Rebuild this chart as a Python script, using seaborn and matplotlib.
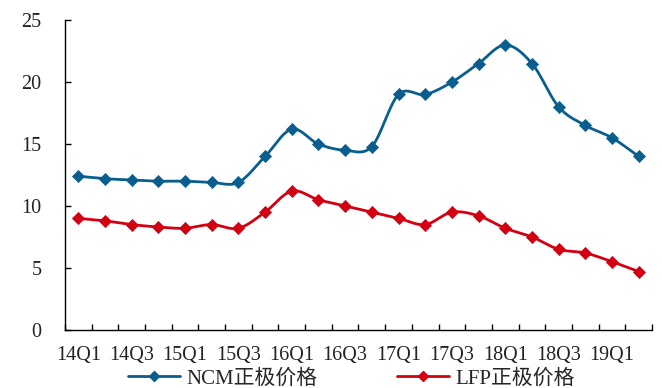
import numpy as np
import pandas as pd
import matplotlib
matplotlib.use("Agg")
import matplotlib.pyplot as plt
from matplotlib.lines import Line2D
import seaborn as sns

quarters = ["14Q1", "14Q2", "14Q3", "14Q4", "15Q1", "15Q2", "15Q3", "15Q4",
            "16Q1", "16Q2", "16Q3", "16Q4", "17Q1", "17Q2", "17Q3", "17Q4",
            "18Q1", "18Q2", "18Q3", "18Q4", "19Q1", "19Q2"]
ncm = [12.4, 12.2, 12.1, 12.0, 12.0, 11.9, 11.9, 14.0, 16.2, 15.0, 14.5, 14.8,
       19.0, 19.0, 20.0, 21.5, 23.0, 21.5, 18.0, 16.5, 15.5, 14.0]
lfp = [9.0, 8.8, 8.5, 8.3, 8.2, 8.5, 8.2, 9.5, 11.2, 10.5, 10.0, 9.5,
       9.0, 8.5, 9.5, 9.2, 8.2, 7.5, 6.5, 6.2, 5.5, 4.7]
series_names = ["NCM正极价格", "LFP正极价格"]
yticks = [0, 5, 10, 15, 20, 25]

colors = ["#0A5E8E", "#D20010"]

sns.set_theme(style="white")
plt.rcParams["font.family"] = ["Liberation Serif", "Noto Sans CJK SC"]

fig = plt.figure(figsize=(6.62, 3.88), dpi=100)
ax = fig.add_axes([0.098, 0.15, 0.887, 0.798])


def catmull_rom(y, n=20):
    y = np.asarray(y, dtype=float)
    x = np.arange(len(y), dtype=float)
    P = np.concatenate([[2 * y[0] - y[1]], y, [2 * y[-1] - y[-2]]])
    X = np.concatenate([[x[0] - 1], x, [x[-1] + 1]])
    xs, ys = [], []
    t = np.linspace(0, 1, n, endpoint=False)
    for i in range(1, len(P) - 2):
        for arr, out in ((X, xs), (P, ys)):
            p0, p1, p2, p3 = arr[i - 1], arr[i], arr[i + 1], arr[i + 2]
            out.extend(0.5 * ((2 * p1) + (-p0 + p2) * t
                              + (2 * p0 - 5 * p1 + 4 * p2 - p3) * t ** 2
                              + (-p0 + 3 * p1 - 3 * p2 + p3) * t ** 3))
    xs.append(x[-1])
    ys.append(y[-1])
    return np.array(xs), np.array(ys)


for vals, name, c in zip([ncm, lfp], series_names, colors):
    sx, sy = catmull_rom(vals)
    sns.lineplot(x=sx, y=sy, ax=ax, color=c, linewidth=2.0, sort=False,
                 estimator=None)
    df = pd.DataFrame({"x": np.arange(len(quarters)), "y": vals})
    sns.scatterplot(data=df, x="x", y="y", ax=ax, color=c, marker="D",
                    s=38, edgecolor=c, linewidth=0.5, zorder=3)

ax.set_xlim(-0.5, len(quarters) - 0.5)
ax.set_ylim(0, 25)
ax.set_yticks(yticks)
ax.set_yticklabels([str(v) for v in yticks])
ax.set_xticks(np.arange(0, len(quarters), 2))
ax.set_xticklabels(quarters[::2])
ax.set_xticks(np.arange(-0.5, len(quarters), 1), minor=True)
ax.set_xlabel("")
ax.set_ylabel("")

for s in ["top", "right"]:
    ax.spines[s].set_visible(False)
for s in ["left", "bottom"]:
    ax.spines[s].set_color("black")
    ax.spines[s].set_linewidth(1.0)

ax.tick_params(axis="y", direction="in", length=4, width=1, color="black",
               labelsize=14.5, pad=17, left=True)
ax.tick_params(axis="x", which="major", length=0, labelsize=14.5, pad=12)
ax.tick_params(axis="x", which="minor", direction="in", length=4, width=1,
               color="black", bottom=True)
for lab in ax.get_xticklabels() + ax.get_yticklabels():
    lab.set_color("#222222")

handles = [Line2D([0], [0], color=c, lw=2.0, marker="D", markersize=5.5)
           for c in colors]
fig.legend(handles, series_names, loc="center",
           bbox_to_anchor=(0.531, 0.024), ncol=2, frameon=False,
           handlelength=2.5, columnspacing=3.8, handletextpad=0.3,
           borderpad=0, borderaxespad=0,
           prop={"family": ["Liberation Serif", "Noto Sans CJK SC"], "size": 15})

fig.savefig("out.png", dpi=100)
